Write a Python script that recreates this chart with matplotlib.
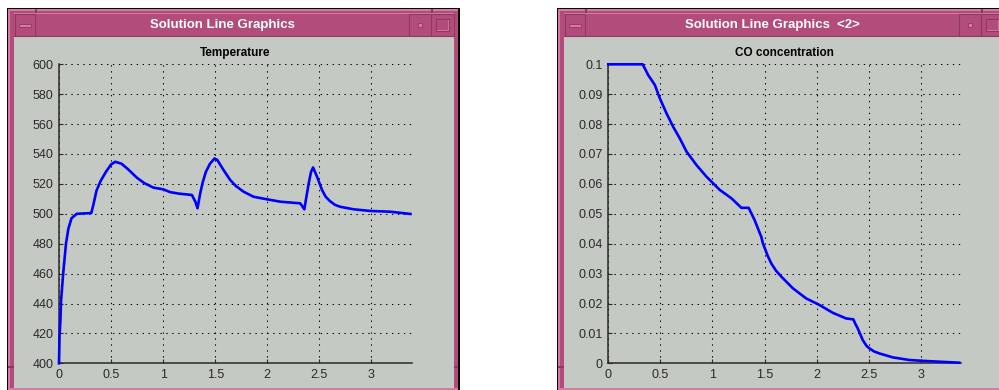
import numpy as np
import matplotlib
matplotlib.use("Agg")
from matplotlib import pyplot as plt
from matplotlib.patches import Rectangle

# temperature curve (x, T)
temp_x = [0.0, 0.005, 0.013, 0.02, 0.04, 0.067, 0.09, 0.12, 0.17, 0.31, 0.33, 0.36,
          0.40, 0.45, 0.50, 0.54, 0.60, 0.66, 0.75, 0.82, 0.907, 1.0, 1.067, 1.15,
          1.276, 1.31, 1.33, 1.356, 1.38, 1.41, 1.45, 1.494, 1.52, 1.58, 1.644, 1.70,
          1.772, 1.868, 1.997, 2.125, 2.317, 2.356, 2.37, 2.397, 2.42, 2.44, 2.478,
          2.526, 2.56, 2.60, 2.65, 2.70, 2.83, 2.99, 3.18, 3.375]
temp_y = [400, 418, 428, 442, 460, 480, 490, 497, 500, 500.5, 506, 515.5,
          522, 528, 533, 534.8, 533.5, 530, 524, 520.5, 517.5, 516.4, 514.5, 513.5,
          512.6, 508, 503.7, 513.7, 521, 528, 533.5, 537, 536, 529.3, 522.6, 518.5,
          514.8, 511.4, 509.7, 508.1, 507, 503, 509, 520, 528, 531, 524.8,
          515.9, 511.5, 508.6, 506, 504.7, 503, 501.9, 501.4, 499.9]

# CO concentration curve (x, c)
co_x = [0.0, 0.33, 0.36, 0.383, 0.447, 0.495, 0.559, 0.623, 0.69, 0.751, 0.847, 0.943,
        1.07, 1.182, 1.278, 1.348, 1.405, 1.469, 1.485, 1.53, 1.565, 1.61, 1.661,
        1.772, 1.9, 2.028, 2.155, 2.284, 2.353, 2.375, 2.395, 2.443, 2.48, 2.507,
        2.55, 2.603, 2.73, 2.89, 3.03, 3.37]
co_y = [0.1, 0.1, 0.098, 0.0964, 0.0931, 0.0886, 0.0836, 0.0791, 0.075, 0.0708, 0.0663,
        0.0624, 0.058, 0.0552, 0.052, 0.052, 0.0479, 0.0423, 0.0401, 0.036, 0.0334,
        0.031, 0.029, 0.0251, 0.0217, 0.0195, 0.0169, 0.015, 0.0147, 0.013, 0.0117,
        0.0078, 0.0058, 0.005, 0.004, 0.0033, 0.002, 0.0011, 0.0008, 0.0002]

x_ticks = [0, 0.5, 1, 1.5, 2, 2.5, 3]
temp_ticks = [400, 420, 440, 460, 480, 500, 520, 540, 560, 580, 600]
co_ticks = [0, 0.01, 0.02, 0.03, 0.04, 0.05, 0.06, 0.07, 0.08, 0.09, 0.1]

PINK = "#b24c7a"
PINK_LT = "#d77aa3"
PINK_DK = "#8e3a60"
GRAY = "#c5c9c3"
FONT = "Liberation Sans"

W, H = 999, 390
fig = plt.figure(figsize=(W / 100, H / 100), dpi=100)
fig.patch.set_facecolor("white")

bg = fig.add_axes([0, 0, 1, 1])
bg.set_xlim(0, W)
bg.set_ylim(H, 0)
bg.axis("off")


def rect(x0, y0, x1, y1, fc, ec="none", lw=0):
    bg.add_patch(Rectangle((x0, y0), x1 - x0, y1 - y0, facecolor=fc,
                           edgecolor=ec, linewidth=lw))


def window(x0, x1, title):
    rect(x0, 8, x1, 391, "black")
    rect(x0 + 1, 9, x1 - 2, 391, PINK)
    # light bevels
    rect(x0 + 1, 9, x1 - 2, 10.5, PINK_LT)
    rect(x0 + 1, 9, x0 + 2.5, 391, PINK_LT)
    rect(x0 + 7, 12.5, x1 - 6, 14, PINK_LT)
    # client area
    rect(x0 + 7, 37, x1 - 6, 387.5, GRAY)
    rect(x0 + 1, 387.5, x1 - 2, 391, PINK_LT)
    # title bar
    rect(x0 + 7, 14, x1 - 6, 36, PINK)
    rect(x0 + 7, 35.5, x1 - 6, 37, PINK_DK)
    # left button
    rect(x0 + 8, 14, x0 + 28, 36, PINK, PINK_DK, 0.8)
    rect(x0 + 12, 23.5, x0 + 24, 26.5, PINK_LT, PINK_DK, 0.6)
    # right buttons
    rect(x1 - 51, 14, x1 - 29, 36, PINK, PINK_DK, 0.8)
    rect(x1 - 42, 23, x1 - 38, 27, PINK_LT, PINK_DK, 0.6)
    rect(x1 - 29, 14, x1 - 6, 36, PINK, PINK_DK, 0.8)
    rect(x1 - 24, 19, x1 - 11, 31, PINK_LT, PINK_DK, 0.8)
    rect(x1 - 23, 20, x1 - 12, 30, PINK)
    # corner marks on border
    rect(x0 + 1, 366, x0 + 7, 367.5, PINK_DK)
    rect(x1 - 6, 366, x1 - 2, 367.5, PINK_DK)
    rect(x0 + 28, 9, x0 + 29.5, 13, PINK_DK)
    rect(x1 - 29, 9, x1 - 27.5, 13, PINK_DK)
    bg.text((x0 + 28 + x1 - 51) / 2, 25, title, color="white", fontsize=9.5,
            fontweight="bold", family=FONT, ha="center", va="center")


window(7, 460, "Solution Line Graphics")
window(557, 1010, "Solution Line Graphics  <2>")


def panel(left_px, xs, ys, yticks, ylim, title, fmt):
    ax = fig.add_axes([left_px / W, (H - 363.3) / H, 352.5 / W, 299 / H])
    ax.set_facecolor(GRAY)
    ax.plot(xs, ys, color="#0000ff", lw=1.9, solid_joinstyle="round",
            clip_on=False, zorder=3)
    ax.set_xlim(0, 3.385)
    ax.set_ylim(*ylim)
    ax.set_xticks(x_ticks)
    ax.set_xticklabels(["%g" % t for t in x_ticks])
    ax.set_yticks(yticks)
    ax.set_yticklabels([fmt(t) for t in yticks])
    ax.grid(True, color="black", linestyle=(0, (1.3, 4.4)), linewidth=0.75)
    for s in ["top", "right"]:
        ax.spines[s].set_visible(False)
    for s in ["left", "bottom"]:
        ax.spines[s].set_color("#2a2a2a")
        ax.spines[s].set_linewidth(1.1)
    ax.tick_params(direction="in", length=3, width=0.8, color="#2a2a2a",
                   labelsize=9, labelcolor="#2a2a2a", pad=4)
    for lab in ax.get_xticklabels() + ax.get_yticklabels():
        lab.set_family(FONT)
    ax.set_title(title, fontsize=8.5, fontweight="bold", family=FONT, pad=6)
    return ax


panel(59, temp_x, temp_y, temp_ticks, (400, 600), "Temperature", lambda t: "%d" % t)
panel(608.3, co_x, co_y, co_ticks, (0, 0.1), "CO concentration", lambda t: "%g" % t)

fig.savefig("out.png", dpi=100, facecolor="white")
